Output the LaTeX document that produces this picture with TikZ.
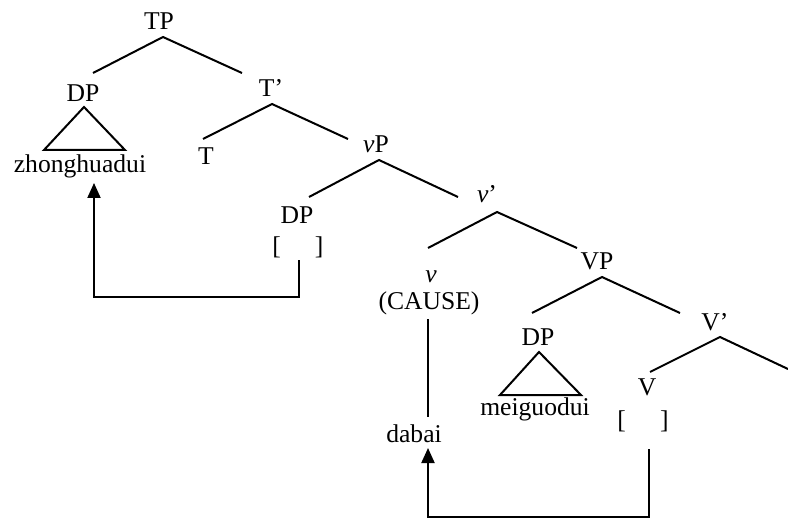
\documentclass[tikz,border=0pt]{standalone}
\usepackage{fontspec}
\setmainfont{Liberation Serif}
\usetikzlibrary{arrows.meta}
\newcommand\treefont{\fontsize{12.8}{15}\selectfont}
\begin{document}
\begin{tikzpicture}[x=0.5pt,y=-0.5pt,
  lbl/.style={inner sep=0pt, anchor=base, font=\treefont},
  edge/.style={line width=1pt},
  roof/.style={line width=1pt, line join=miter},
  movement/.style={line width=1pt, -{Triangle[length=7.5pt,width=6.5pt]}}]
\useasboundingbox (0,0) rectangle (788,519);

% labels
\node[lbl] (TP)    at (159,30)  {TP};
\node[lbl] (DPs)   at (83,102)  {DP};
\node[lbl] (zhong) at (80,173)  {zhonghuadui};
\node[lbl] (Tbar)  at (271,97)  {T’};
\node[lbl] (T)     at (206,165) {T};
\node[lbl] (vP)    at (376,153) {\textit{v}P};
\node[lbl] (DPt)   at (297,223) {DP};
\node[lbl] (gapA)  at (298,255) {[\hspace{17pt}]};
\node[lbl] (vbar)  at (487,203) {\textit{v}’};
\node[lbl] (v)     at (431,282) {\textit{v}};
\node[lbl] (cause) at (429,309) {(CAUSE)};
\node[lbl] (dabai) at (414,442) {dabai};
\node[lbl] (VP)    at (597,270) {VP};
\node[lbl] (DPo)   at (538,345) {DP};
\node[lbl] (meig)  at (535,415) {meiguodui};
\node[lbl] (Vbar)  at (715,330) {V’};
\node[lbl] (V)     at (647,395) {V};
\node[lbl] (gapB)  at (643,428) {[\hspace{17pt}]};

% branch end points
\coordinate (TP-a)   at (163,37);
\coordinate (DPs-t)  at (93,73);
\coordinate (Tbar-t) at (242,73);
\coordinate (Tbar-a) at (272,104);
\coordinate (T-t)    at (203,139);
\coordinate (vP-t)   at (348,139);
\coordinate (vP-a)   at (379,160);
\coordinate (DPt-t)  at (309,197);
\coordinate (vbar-t) at (458,197);
\coordinate (vbar-a) at (497,212);
\coordinate (v-t)    at (428,248);
\coordinate (VP-t)   at (577,248);
\coordinate (VP-a)   at (602,277);
\coordinate (DPo-t)  at (532,313);
\coordinate (Vbar-t) at (680,313);
\coordinate (Vbar-a) at (720,337);
\coordinate (V-t)    at (650,372);
\coordinate (comp-t) at (788,369);

% tree branches
\draw[edge] (DPs-t) -- (TP-a) -- (Tbar-t);
\draw[edge] (T-t) -- (Tbar-a) -- (vP-t);
\draw[edge] (DPt-t) -- (vP-a) -- (vbar-t);
\draw[edge] (v-t) -- (vbar-a) -- (VP-t);
\draw[edge] (DPo-t) -- (VP-a) -- (Vbar-t);
\draw[edge] (V-t) -- (Vbar-a) -- (comp-t);

% roofs over phrasal DPs
\draw[roof] (84,107) -- (44,150) -- (125,150) -- cycle;
\draw[roof] (539,352) -- (500,395) -- (581,395) -- cycle;

% v (CAUSE) linked to dabai
\coordinate (cause-b) at (428,319);
\coordinate (dabai-t) at (428,417);
\draw[edge] (cause-b) -- (dabai-t);

% movement arrows
\coordinate (gapA-b) at (299,260);
\coordinate (zhong-b) at (94,183);
\draw[movement] (gapA-b) -- (299,297) -| (zhong-b);
\coordinate (gapB-b) at (649,449);
\coordinate (dabai-b) at (428,448);
\draw[movement] (gapB-b) -- (649,517) -| (dabai-b);
\end{tikzpicture}
\end{document}
